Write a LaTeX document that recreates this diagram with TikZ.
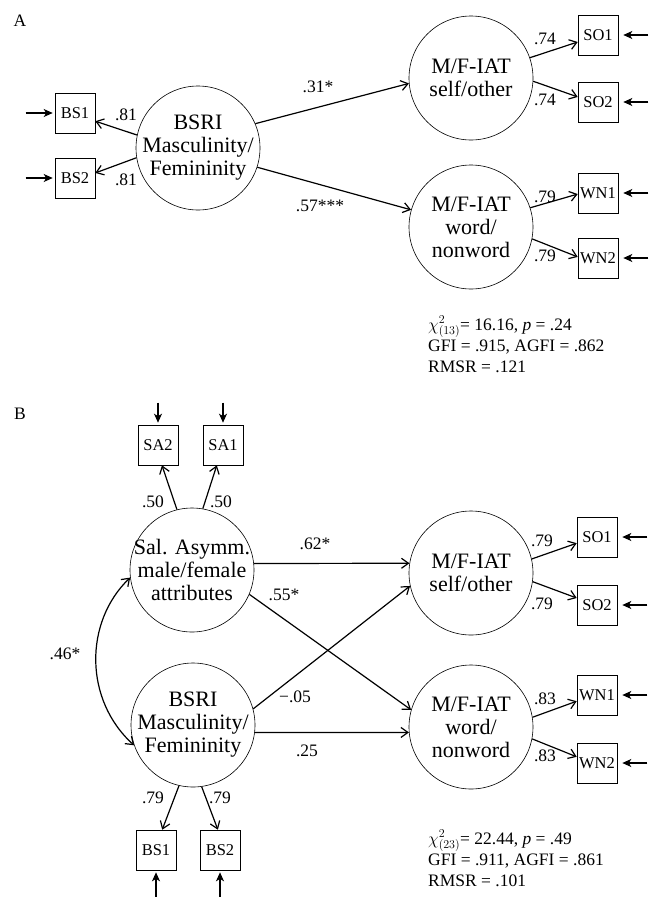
\documentclass[tikz,border=0pt]{standalone}
\usepackage{fontspec}
\setmainfont{Liberation Serif}
\usetikzlibrary{arrows.meta}

\begin{document}
\begin{tikzpicture}[x=1pt, y=-1pt,
        latent/.style={circle, draw, line width=0.6pt, minimum size=124pt, inner sep=-6pt, align=center, font=\fontsize{22}{23}\selectfont},
        obs/.style={rectangle, draw, line width=0.6pt, minimum size=40pt, inner sep=0pt, font=\fontsize{16.5}{16.5}\selectfont},
        coef/.style={inner sep=0pt, font=\fontsize{17.5}{17.5}\selectfont},
        fitstat/.style={anchor=north west, inner sep=0pt, align=left, font=\fontsize{17.5}{21}\selectfont},
        load/.style={line width=1.2pt, -{Straight Barb[length=7pt, width=10pt]}},
        err/.style={line width=1.5pt, -{Stealth[length=9pt, width=8pt, inset=2.5pt]}}]
        \useasboundingbox (0,0) rectangle (660,897);

        % panel A
        \node[coef] (labA) at (20,21) {A};
        \node[latent] (bsriA) at (198,148) {BSRI\\Masculinity/\\Femininity};
        \node[latent] (soA) at (471,78) {M/F-IAT\\self/other};
        \node[latent] (wnA) at (471,227) {M/F-IAT\\word/\\nonword};
        \foreach \n/\lbl/\x/\y in {bs1A/BS1/75/113, bs2A/BS2/75/178, so1A/SO1/598/35, so2A/SO2/598/102, wn1A/WN1/598/193, wn2A/WN2/598/258}
            \node[obs] (\n) at (\x,\y) {\lbl};

        \path[load] (bsriA.168) edge (bs1A.-22);
        \path[load] (bsriA.189) edge (bs2A.14);
        \path[load] (bsriA.23) edge (soA.185);
        \path[load] (bsriA.-18) edge (wnA.164);
        \path[load] (soA.19) edge (so1A.199);
        \path[load] (soA.-3) edge (so2A.166);
        \path[load] (wnA.18) edge (wn1A.183);
        \path[load] (wnA.-11) edge (wn2A.177);

        \node[fitstat] (fitA) at (428,316) {$\chi^{2}_{(13)}$= 16.16, \textit{p} = .24\\GFI = .915, AGFI = .862\\RMSR = .121};

        % panel B
        \node[coef] (labB) at (20,414) {B};
        \node[latent] (salB) at (192,570) {Sal. Asymm.\\male/female\\attributes};
        \node[latent] (bsriB) at (193,725) {BSRI\\Masculinity/\\Femininity};
        \node[latent] (soB) at (471,573) {M/F-IAT\\self/other};
        \node[latent] (wnB) at (471,727) {M/F-IAT\\word/\\nonword};
        \foreach \n/\lbl/\x/\y in {sa2B/SA2/158/445, sa1B/SA1/223/445, bs1B/BS1/156/850, bs2B/BS2/220/850, so1B/SO1/597/537, so2B/SO2/597/605, wn1B/WN1/597/695, wn2B/WN2/597/763}
            \node[obs] (\n) at (\x,\y) {\lbl};

        \path[load] (salB.104) edge (sa2B.-79);
        \path[load] (salB.80) edge (sa1B.-107);
        \path[load] (salB.6) edge (soB.171);
        \path[load] (salB.-23) edge (wnB.164);
        \path[load] (bsriB.15) edge (soB.192);
        \path[load] (bsriB.-7) edge (wnB.185);
        \path[load] (bsriB.257) edge (bs1B.73);
        \path[load] (bsriB.278) edge (bs2B.96);
        \path[load] (soB.13) edge (so1B.197);
        \path[load] (soB.-8) edge (so2B.161);
        \path[load] (wnB.9) edge (wn1B.197);
        \path[load] (wnB.-11) edge (wn2B.163);
        \draw[line width=1.2pt, {Straight Barb[length=7pt, width=10pt]}-{Straight Barb[length=7pt, width=10pt]}]
            (salB.187) .. controls (84,622) and (84,700) .. (bsriB.199);

        \node[fitstat] (fitB) at (428,830) {$\chi^{2}_{(23)}$= 22.44, \textit{p} = .49\\GFI = .911, AGFI = .861\\RMSR = .101};

        % error terms
        \foreach \n in {bs1A, bs2A}
        {
            \coordinate (e\n) at ([xshift=-29pt]\n.west);
            \draw[err, shorten >=2pt] (e\n) -- (\n);
        }
        \foreach \n in {so1A, so2A, wn1A, wn2A, so1B, so2B, wn1B, wn2B}
        {
            \coordinate (e\n) at ([xshift=30pt]\n.east);
            \draw[err, shorten >=5pt] (e\n) -- (\n);
        }
        \foreach \n in {sa1B, sa2B}
        {
            \coordinate (e\n) at ([yshift=22pt]\n.north);
            \draw[err, shorten >=2pt] (e\n) -- (\n);
        }
        \foreach \n in {bs1B, bs2B}
        {
            \coordinate (e\n) at ([yshift=-27pt]\n.south);
            \draw[err, shorten >=2pt] (e\n) -- (\n);
        }

        % coefficients
        \foreach \n/\lbl/\x/\y in {cA1/.81/126/115, cA2/.81/126/180, cA3/.31*/318/87, cA4/.57***/320/206,
                                   cA5/.74/545/39, cA6/.74/545/100, cA7/.79/545/197, cA8/.79/545/256,
                                   cB1/.50/153/502, cB2/.50/221/502, cB3/.62*/315/544, cB4/.55*/284/595,
                                   cB5/−.05/295/697, cB6/.25/307/751, cB7/.46*/65/654, cB8/.79/153/798,
                                   cB9/.79/220/798, cB10/.79/542/541, cB11/.79/542/604, cB12/.83/545/699, cB13/.83/545/756}
            \node[coef] (\n) at (\x,\y) {\lbl};
    \end{tikzpicture}
\end{document}
